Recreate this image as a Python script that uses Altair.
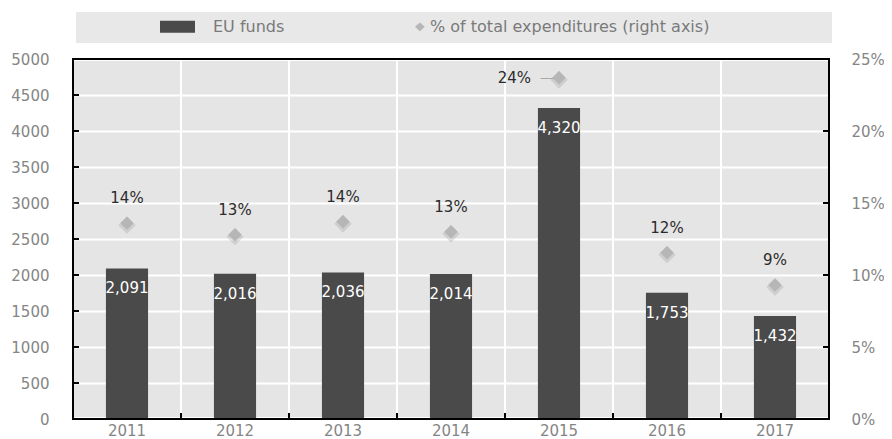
import altair as alt
import pandas as pd

# ---- data ----
years = ["2011", "2012", "2013", "2014", "2015", "2016", "2017"]
eu_funds = [2091, 2016, 2036, 2014, 4320, 1753, 1432]
pct_total = [0.136, 0.128, 0.137, 0.130, 0.237, 0.1155, 0.093]
series_names = ["EU funds", "% of total expenditures (right axis)"]
left_ticks = [0, 500, 1000, 1500, 2000, 2500, 3000, 3500, 4000, 4500, 5000]
right_ticks = [0, 0.05, 0.10, 0.15, 0.20, 0.25]

df = pd.DataFrame({"year": years, "funds": eu_funds, "pct": pct_total})
legend_df = pd.DataFrame({"series": series_names})
left_tick_df = pd.DataFrame({"funds": left_ticks[1:-1]})
right_tick_df = pd.DataFrame({"pct": right_ticks[1:-1]})
box_df = pd.DataFrame({"k": [0]})

FONT = "DejaVu Sans"
GREY = "#858585"
BAR = "#4a4a4a"
DIAMOND = "#b6b6b6"
PLOT_BG = "#e5e5e5"

rect_path = "M-1,-0.34L1,-0.34L1,0.34L-1,0.34Z"
diamond_path = "M1.45,-0.25L1.73,0L1.45,0.25L1.17,0Z"

x_axis = alt.Axis(labelAngle=0, ticks=False, domain=False, labelPadding=4, grid=False)
x_enc = alt.X("year:N", title=None, sort=years,
              scale=alt.Scale(paddingInner=0, paddingOuter=0), axis=x_axis)

base = alt.Chart(df)

y_left_axis = alt.Axis(
    values=left_ticks, format="d", ticks=False, domain=False, labelPadding=24,
    labelOverlap=False,
    gridColor={"condition": {"test": "datum.value === 0 || datum.value === 5000",
                             "value": "transparent"}, "value": "white"},
    gridWidth=2,
)
y_left = alt.Y("funds:Q", title=None, scale=alt.Scale(domain=[0, 5000], nice=False), axis=y_left_axis)

# vertical white gridlines at the band boundaries (band outlines)
vgrid = base.mark_rect(fill="transparent", stroke="white", strokeWidth=2).encode(
    x=x_enc, y=alt.value(1), y2=alt.value(359)
)

bars = base.mark_bar(color=BAR, width={"band": 0.39}).encode(x=x_enc, y=y_left)
bar_text = base.mark_text(color="white", dy=20, baseline="middle", font=FONT, fontSize=15).encode(
    x=x_enc, y=y_left, text=alt.Text("funds:Q", format=",.0f")
)

# small inward tick marks
left_tick_marks = alt.Chart(left_tick_df).mark_rule(color="black", strokeWidth=2).encode(
    y=y_left, x=alt.value(0), x2=alt.value(6)
)
bottom_tick_marks = base.transform_filter("datum.year != '2011'").mark_rule(
    color="black", strokeWidth=2, xOffset=-54
).encode(x=x_enc, y=alt.value(354), y2=alt.value(360))

y_right_axis = alt.Axis(orient="right", values=right_ticks, format=".0%", grid=False,
                        ticks=False, domain=False, labelPadding=22, labelOverlap=False)
y_right = alt.Y("pct:Q", title=None, scale=alt.Scale(domain=[0, 0.25], nice=False), axis=y_right_axis)

shadow = base.mark_point(shape="diamond", filled=True, color="#8c8c8c", size=300, opacity=0.25, yOffset=2).encode(
    x=x_enc, y=y_right
)
points = base.mark_point(shape="diamond", filled=True, color=DIAMOND, size=180, opacity=1).encode(
    x=x_enc, y=y_right
)
pct_text = base.transform_filter("datum.year != '2015'").mark_text(
    dy=-25, baseline="middle", font=FONT, fontSize=15, color="#2b2b2b"
).encode(x=x_enc, y=y_right, text=alt.Text("pct:Q", format=".0%"))
pct_text_2015 = base.transform_filter("datum.year == '2015'").mark_text(
    dx=-28, align="right", baseline="middle", font=FONT, fontSize=15, color="#2b2b2b"
).encode(x=x_enc, y=y_right, text=alt.Text("pct:Q", format=".0%"))
leader = base.transform_filter("datum.year == '2015'").mark_text(
    text="\u2014", dx=-12, baseline="middle", font=FONT, fontSize=14, color="#a8a8a8"
).encode(x=x_enc, y=y_right)
right_tick_marks = alt.Chart(right_tick_df).mark_rule(color="black", strokeWidth=2).encode(
    y=y_right, x=alt.value(750), x2=alt.value(756)
)

legend_box = alt.Chart(box_df).mark_rect(color="#e8e8e8").encode(
    x=alt.value(3), x2=alt.value(759), y=alt.value(-47), y2=alt.value(-16)
)
frame = alt.Chart(box_df).mark_rect(fill="transparent", stroke="black", strokeWidth=2).encode(
    x=alt.value(0), x2=alt.value(756), y=alt.value(0), y2=alt.value(360)
)

leg = alt.Legend(
    title=None, orient="none", legendX=87, legendY=-50, direction="horizontal",
    symbolSize=1225, symbolStrokeWidth=0, labelOffset=18, columnPadding=92,
    labelFont=FONT, labelFontSize=16, labelColor="#7a7a7a", labelLimit=500,
)
legend_layer = alt.Chart(legend_df).mark_point(size=0, filled=True, opacity=1).encode(
    color=alt.Color("series:N", scale=alt.Scale(domain=series_names, range=[BAR, DIAMOND]), legend=leg),
    shape=alt.Shape("series:N", scale=alt.Scale(domain=series_names, range=[rect_path, diamond_path]), legend=leg),
)

left = alt.layer(vgrid, bars, bar_text, left_tick_marks, bottom_tick_marks)
right = alt.layer(shadow, points, pct_text, pct_text_2015, leader, right_tick_marks)

chart = (
    alt.layer(legend_box, left, right, frame, legend_layer)
    .resolve_scale(y="independent")
    .properties(
        width=756, height=360,
        autosize=alt.AutoSizeParams(type="none"),
        padding={"left": 65, "top": 51, "right": 55, "bottom": 20},
        view=alt.ViewBackground(fill=PLOT_BG, stroke="black", strokeWidth=2),
    )
    .configure_view(fill=PLOT_BG, stroke="black", strokeWidth=2)
    .configure_axis(labelFont=FONT, labelFontSize=15, labelColor=GREY)
)

chart.save("out.html", embed_options={"renderer": "svg", "actions": False})
